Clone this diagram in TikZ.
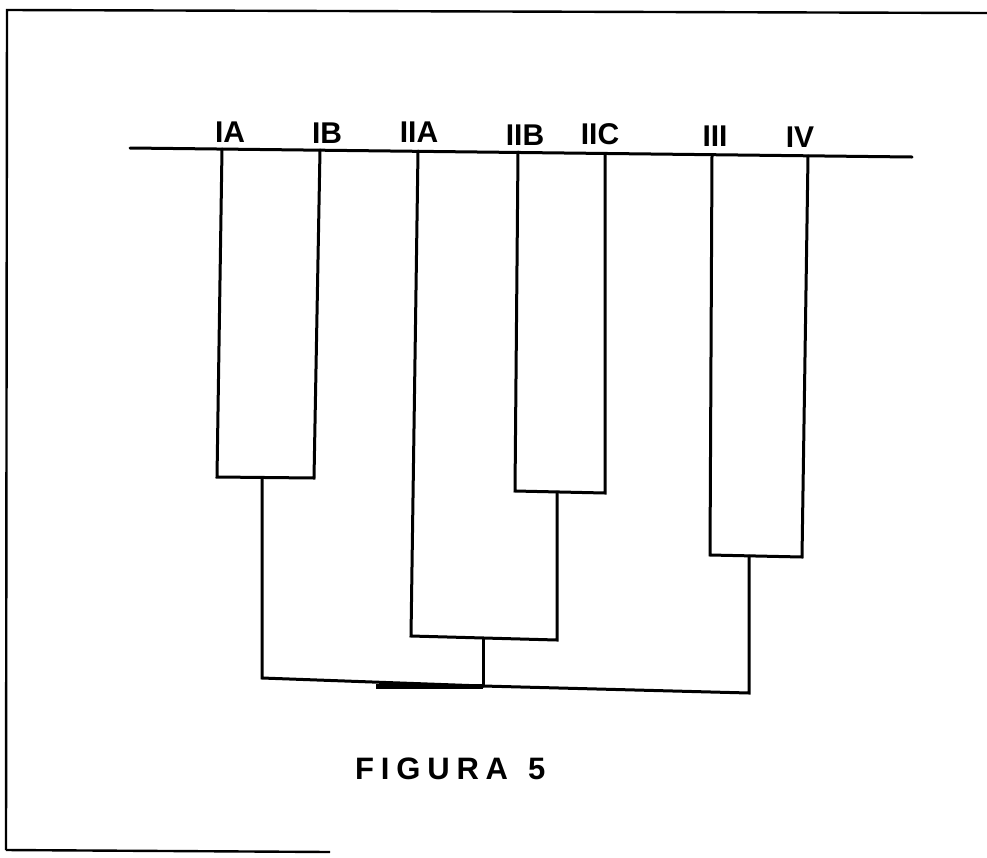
\documentclass[tikz,border=0pt]{standalone}
\usepackage{fontspec}
\setmainfont{Liberation Sans}
\newfontfamily\spacedfont[LetterSpace=22]{Liberation Sans}
\begin{document}
\begin{tikzpicture}[x=1pt,y=-1pt,
  tree/.style={line width=3pt,line join=miter,line cap=round},
  frameline/.style={line width=2.4pt},
  lbl/.style={font=\fontsize{30}{30}\selectfont\bfseries,inner sep=0pt,anchor=base}]
\useasboundingbox (0,0) rectangle (987,857);
% frame
\coordinate (f1) at (6,850);
\coordinate (f2) at (7,10);
\coordinate (f3) at (987,13);
\coordinate (f4) at (330,852);
\draw[frameline] (f1) -- (f2) -- (f3);
\draw[frameline] (f1) -- (f4);
% baseline
\coordinate (b0) at (130,148);
\coordinate (b1) at (912,157);
\draw[tree] (b0) -- (b1);
% leaves top points
\coordinate (tIA) at (222,149);
\coordinate (tIB) at (320,150);
\coordinate (tIIA) at (418,151);
\coordinate (tIIB) at (518,152);
\coordinate (tIIC) at (605,154);
\coordinate (tIII) at (712,155);
\coordinate (tIV) at (808,156);
% labels
\node[lbl] (lIA) at (230,142) {IA};
\node[lbl] (lIB) at (327,143) {IB};
\node[lbl] (lIIA) at (419,142) {IIA};
\node[lbl] (lIIB) at (525,145) {IIB};
\node[lbl] (lIIC) at (600,144) {IIC};
\node[lbl] (lIII) at (715,146) {III};
\node[lbl] (lIV) at (800,147) {IV};
% cluster IA-IB
\coordinate (bIA) at (217,477);
\coordinate (bIB) at (314,478);
\draw[tree] (tIA) -- (bIA) -- (bIB) -- (tIB);
\coordinate (sI) at (262,478);
% cluster IIB-IIC
\coordinate (bIIB) at (515,491);
\coordinate (bIIC) at (605,493);
\draw[tree] (tIIB) -- (bIIB) -- (bIIC) -- (tIIC);
\coordinate (sIIBC) at (557,492);
% cluster IIA-(IIB,IIC)
\coordinate (bIIA) at (411,636);
\coordinate (jIIBC) at (557,640);
\draw[tree] (tIIA) -- (bIIA) -- (jIIBC) -- (sIIBC);
\coordinate (sII) at (483,638);
% cluster III-IV
\coordinate (bIII) at (710,555);
\coordinate (bIV) at (802,557);
\draw[tree] (tIII) -- (bIII) -- (bIV) -- (tIV);
\coordinate (sIII) at (749,556);
% root
\coordinate (rI) at (262,678);
\coordinate (rII) at (483,686);
\coordinate (rIII) at (749,693);
\draw[tree] (sI) -- (rI) -- (rII) -- (rIII) -- (sIII);
\draw[tree] (sII) -- (rII);
\coordinate (thk) at (376,686);
\draw[line width=5pt] (thk) -- (rII);
% caption
\node[inner sep=0pt,anchor=base west] (cap) at (355,779)
  {\spacedfont\fontsize{31}{31}\selectfont\bfseries FIGURA\hspace{20pt}5};
\end{tikzpicture}
\end{document}
